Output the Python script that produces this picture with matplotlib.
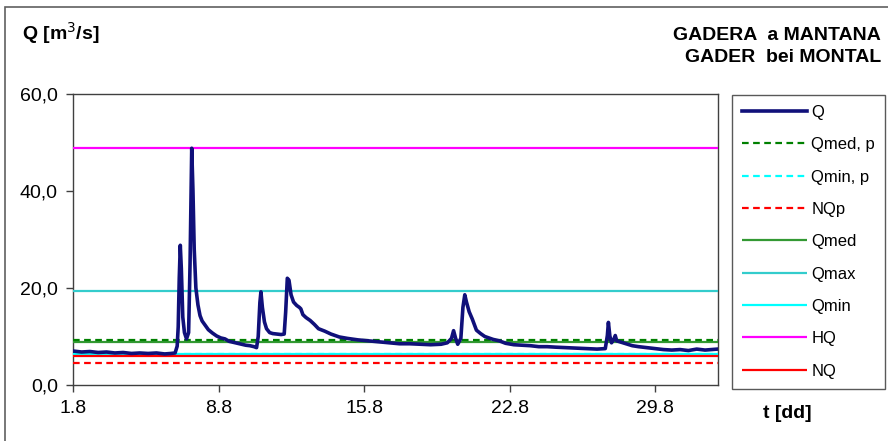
import numpy as np
import matplotlib.pyplot as plt
from matplotlib.patches import Rectangle

plt.rcParams['font.family'] = ['Liberation Sans', 'DejaVu Sans']

# giorni di agosto (1.8 = 1 agosto) e portata Q [m3/s]
giorni = [1.0, 1.4, 1.8, 2.2, 2.6, 3.0, 3.4, 3.8, 4.2, 4.6, 5.0, 5.4, 5.7, 5.9,
          6.0, 6.05, 6.1, 6.15, 6.2, 6.27, 6.35, 6.45, 6.55, 6.62, 6.7, 6.76,
          6.82, 6.9, 7.0, 7.1, 7.2, 7.35, 7.5, 7.7, 7.9, 8.1, 8.3, 8.5, 8.7,
          8.9, 9.1, 9.3, 9.5, 9.7, 9.82, 9.9, 9.98, 10.03, 10.1, 10.2, 10.3,
          10.45, 10.6, 10.8, 11.0, 11.15, 11.22, 11.3, 11.38, 11.48, 11.6,
          11.75, 11.88, 11.95, 12.05, 12.2, 12.4, 12.6, 12.8, 13.1, 13.4, 13.8,
          14.2, 14.7, 15.2, 15.7, 16.2, 16.7, 17.2, 17.7, 18.2, 18.7, 19.0,
          19.2, 19.3, 19.4, 19.5, 19.65, 19.75, 19.84, 19.92, 20.05, 20.2,
          20.4, 20.6, 20.8, 21.0, 21.2, 21.5, 21.8, 22.2, 22.6, 23.0, 23.4,
          23.8, 24.2, 24.7, 25.2, 25.7, 26.2, 26.6, 26.7, 26.75, 26.82, 26.9,
          27.0, 27.08, 27.15, 27.3, 27.6, 27.9, 28.2, 28.6, 29.0, 29.4, 29.8,
          30.2, 30.6, 31.0, 31.4, 32.0]
portata = [7.0, 6.8, 6.9, 6.7, 6.8, 6.6, 6.7, 6.5, 6.6, 6.5, 6.6, 6.4, 6.5,
           6.6, 8.0, 12.0, 22.0, 28.8, 24.0, 14.0, 10.8, 9.5, 10.8, 25.0,
           48.8, 40.0, 28.0, 20.0, 16.5, 14.3, 13.2, 12.3, 11.4, 10.7, 10.1,
           9.7, 9.5, 9.0, 8.8, 8.6, 8.4, 8.2, 8.1, 7.9, 7.7, 10.0, 17.0, 19.2,
           16.0, 13.0, 11.6, 10.8, 10.6, 10.5, 10.4, 10.5, 15.0, 22.0, 21.6,
           18.6, 17.1, 16.4, 16.0, 15.7, 14.5, 13.9, 13.3, 12.5, 11.6, 11.1,
           10.5, 9.9, 9.6, 9.3, 9.1, 8.9, 8.7, 8.5, 8.5, 8.4, 8.3, 8.4, 8.7,
           9.6, 11.2, 9.6, 8.4, 9.6, 16.0, 18.6, 17.1, 15.1, 13.6, 11.3, 10.6,
           10.0, 9.7, 9.4, 9.1, 8.6, 8.3, 8.2, 8.1, 7.9, 7.9, 7.8, 7.7, 7.6,
           7.5, 7.4, 7.5, 10.2, 12.9, 10.1, 8.7, 9.3, 10.2, 9.1, 8.9, 8.5, 8.1,
           7.9, 7.7, 7.5, 7.3, 7.2, 7.3, 7.1, 7.4, 7.2, 7.4]

# valori caratteristici [m3/s]
Qmed_p = 9.3
Qmin_p = 6.3
NQp = 4.5
Qmed = 8.9
Qmax = 19.3
Qmin = 6.3
HQ = 48.9
NQ = 6.0

tick_giorni = [1, 8, 15, 22, 29]
tick_label_x = ['1.8', '8.8', '15.8', '22.8', '29.8']
tick_y = [0, 20, 40, 60]
tick_label_y = ['0,0', '20,0', '40,0', '60,0']

fig = plt.figure(figsize=(8.88, 4.41), dpi=100)
ax = fig.add_axes([0.0825, 0.127, 0.7255, 0.660])

x_lim = (1, 32)
lw = 1.6
ax.plot(giorni, portata, color='#10107a', lw=2.6, label='Q', zorder=5)
ax.hlines(Qmed_p, *x_lim, colors='#008000', linestyles=(0, (3, 2)), lw=lw, label='Qmed, p', zorder=4)
ax.hlines(Qmin_p, *x_lim, colors='#00ffff', linestyles=(0, (3, 2)), lw=lw, label='Qmin, p', zorder=2)
ax.hlines(NQp, *x_lim, colors='#ff0000', linestyles=(0, (3, 2)), lw=lw, label='NQp', zorder=3)
ax.hlines(Qmed, *x_lim, colors='#339933', lw=lw, label='Qmed', zorder=3)
ax.hlines(Qmax, *x_lim, colors='#33cccc', lw=lw, label='Qmax', zorder=3)
ax.hlines(Qmin, *x_lim, colors='#00ffff', lw=lw, label='Qmin', zorder=3)
ax.hlines(HQ, *x_lim, colors='#ff00ff', lw=lw, label='HQ', zorder=3)
ax.hlines(NQ, *x_lim, colors='#ff0000', lw=lw, label='NQ', zorder=3)

ax.set_xlim(*x_lim)
ax.set_ylim(0, 60)
ax.set_xticks(tick_giorni)
ax.set_xticklabels(tick_label_x)
ax.set_yticks(tick_y)
ax.set_yticklabels(tick_label_y)
ax.tick_params(direction='out', length=5, width=1, labelsize=14, color='#404040', pad=6)
for s in ax.spines.values():
    s.set_color('#404040')
    s.set_linewidth(1.0)

leg = fig.legend(loc='upper left', bbox_to_anchor=(732 / 888, 1 - 95 / 441),
                 fontsize=12, handlelength=3.9, handletextpad=0.25,
                 labelspacing=1.04, borderpad=0.6, borderaxespad=0,
                 fancybox=False, frameon=True)
leg.get_frame().set_edgecolor('#303030')
leg.get_frame().set_linewidth(1.0)

fig.text(22 / 888, 1 - 33 / 441, 'Q [m$^3$/s]', fontsize=14, fontweight='bold', va='center')
fig.text(881 / 888, 1 - 35 / 441, 'GADERA  a MANTANA', fontsize=14, fontweight='bold',
         ha='right', va='center')
fig.text(881 / 888, 1 - 58 / 441, 'GADER  bei MONTAL', fontsize=14, fontweight='bold',
         ha='right', va='center')
fig.text(787 / 888, 1 - 413 / 441, 't [dd]', fontsize=14, fontweight='bold', ha='center', va='center')

# cornice esterna
fig.patches.append(Rectangle((5 / 888, -0.1), 1.2, 0.1 + 1 - 7 / 441, transform=fig.transFigure,
                             fill=False, edgecolor='#606060', lw=1.2))

fig.savefig('out.png', dpi=100)
